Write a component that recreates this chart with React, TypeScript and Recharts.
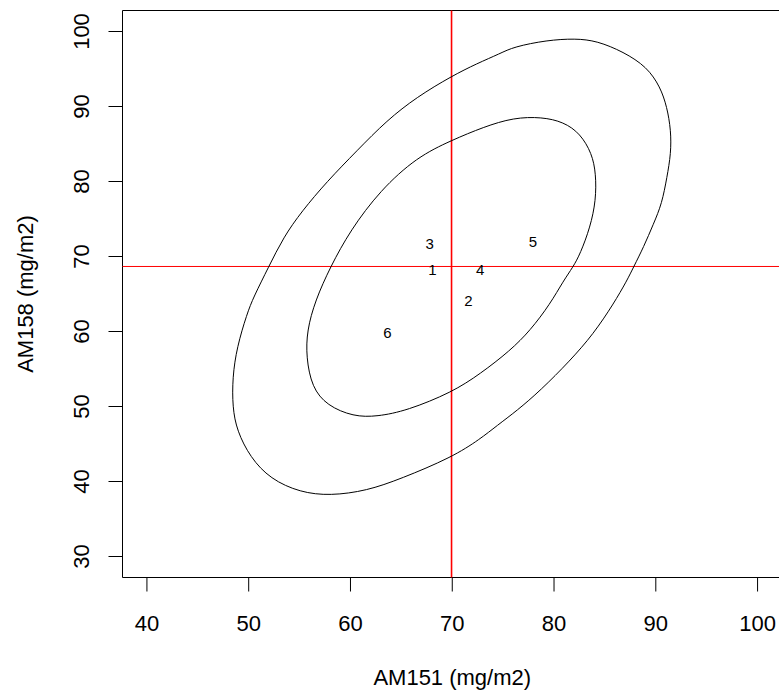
import React from "react";
import { Label, ReferenceArea, ReferenceLine, Scatter, ScatterChart, XAxis, YAxis } from "recharts";

const FONT = '"Liberation Sans", Arial, sans-serif';

const X_TICKS = [40, 50, 60, 70, 80, 90, 100];
const Y_TICKS = [30, 40, 50, 60, 70, 80, 90, 100];
const X_DOMAIN: [number, number] = [37.6, 102.4];
const Y_DOMAIN: [number, number] = [27.2, 102.8];

const X_TITLE = "AM151 (mg/m2)";
const Y_TITLE = "AM158 (mg/m2)";

// sample labels drawn as text at their positions
const SAMPLE_IDS = ["1", "2", "3", "4", "5", "6"];
const SAMPLE_X = [68.06, 71.6, 67.77, 72.75, 77.93, 63.64];
const SAMPLE_Y = [68.23, 64.13, 71.78, 68.23, 72.05, 59.82];

// red cross lines
const MEAN_X = 69.93;
const MEAN_Y = 68.67;

const OUTER_X = [
  69.93, 72.43, 74.72, 76.02, 79.3, 82.09, 84.22, 86.83, 89.13, 90.44, 91.1, 91.49, 91.49, 91.1, 90.6, 89.78,
  88.8, 87.81, 87.17, 85.85, 83.88, 81.59, 78.65, 76.36, 74.39, 72.75, 69.97, 64.89, 61.62, 58.01, 55.06, 52.12,
  50.15, 48.84, 48.41, 48.41, 48.84, 49.83, 50.47, 51.95, 53.42, 55.2, 57.69, 60.63, 63.58, 66.53,
];
const OUTER_Y = [
  94.04, 95.73, 97.07, 97.95, 98.84, 99.07, 98.75, 97.28, 95.28, 92.61, 89.94, 86.83, 83.72, 80.59, 77.04, 74.37,
  71.25, 68.58, 66.8, 63.69, 59.69, 56.12, 52.12, 49.45, 47.45, 45.67, 43.22, 40.33, 38.77, 38.1, 38.54, 40.33,
  43.22, 46.78, 49.89, 53.9, 57.9, 62.36, 64.57, 68.58, 72.58, 76.0, 80.0, 84.1, 88.16, 91.27,
];

// inner ellipse
const INNER_X = [
  69.93, 73.08, 76.02, 78.81, 80.94, 82.58, 83.73, 84.12, 84.12, 83.56, 82.58, 81.86, 80.94, 79.63, 77.66, 75.7,
  72.75, 69.97, 65.55, 62.6, 60.3, 57.69, 56.21, 55.65, 55.72, 56.54, 58.01, 59.98, 62.92, 66.53,
];
const INNER_Y = [
  85.49, 87.27, 88.52, 88.6, 87.94, 86.39, 83.72, 81.05, 77.48, 73.92, 70.37, 68.58, 66.8, 63.69, 60.13, 57.46,
  54.35, 51.89, 49.45, 48.65, 48.65, 50.12, 52.56, 56.56, 60.13, 64.13, 68.58, 73.48, 78.82, 83.26,
];

const toPoints = (xs: number[], ys: number[]) => xs.map((x, i) => ({ x, y: ys[i] }));

const outer = toPoints(OUTER_X, OUTER_Y);
const inner = toPoints(INNER_X, INNER_Y);
const samples = SAMPLE_IDS.map((id, i) => ({ id, x: SAMPLE_X[i], y: SAMPLE_Y[i] }));

const XTick = (props: any) => (
  <text x={props.x} y={props.y} textAnchor="middle" fontSize={22} fill="#000" fontFamily={FONT}>
    {props.payload.value}
  </text>
);

const YTick = (props: any) => (
  <text
    x={props.x}
    y={props.y}
    transform={`rotate(-90, ${props.x}, ${props.y})`}
    textAnchor="middle"
    fontSize={22}
    fill="#000"
    fontFamily={FONT}
  >
    {props.payload.value}
  </text>
);

const SampleLabel = (props: any) => (
  <text x={props.cx} y={props.cy + 5.5} textAnchor="middle" fontSize={15} fill="#000" fontFamily={FONT}>
    {props.payload.id}
  </text>
);

export default function App() {
  return (
    <div
      style={{
        position: "fixed",
        left: 0,
        top: 0,
        width: 779,
        height: 693,
        overflow: "hidden",
        background: "#fff",
      }}
    >
      <ScatterChart width={800} height={693} margin={{ top: 10.5, right: 18, bottom: 0, left: 0 }}>
        <XAxis
          type="number"
          dataKey="x"
          domain={X_DOMAIN}
          ticks={X_TICKS}
          allowDataOverflow
          height={115.5}
          axisLine={false}
          tickSize={14}
          tickMargin={39.5}
          tickLine={{ stroke: "#000", strokeWidth: 1 }}
          tick={XTick}
        >
          <Label
            content={(p: any) => {
              const vb = p.viewBox || {};
              return (
                <text
                  x={vb.x + vb.width / 2}
                  y={vb.y + 107.5}
                  textAnchor="middle"
                  fontSize={22}
                  fill="#000"
                  fontFamily={FONT}
                >
                  {X_TITLE}
                </text>
              );
            }}
          />
        </XAxis>
        <YAxis
          type="number"
          dataKey="y"
          domain={Y_DOMAIN}
          ticks={Y_TICKS}
          allowDataOverflow
          width={122.5}
          axisLine={false}
          tickSize={14}
          tickMargin={20}
          tickLine={{ stroke: "#000", strokeWidth: 1 }}
          tick={YTick}
        >
          <Label
            content={(p: any) => {
              const vb = p.viewBox || {};
              const cy = vb.y + vb.height / 2;
              return (
                <text
                  transform={`translate(33, ${cy}) rotate(-90)`}
                  textAnchor="middle"
                  fontSize={22}
                  fill="#000"
                  fontFamily={FONT}
                >
                  {Y_TITLE}
                </text>
              );
            }}
          />
        </YAxis>
        <ReferenceArea
          x1={X_DOMAIN[0]}
          x2={X_DOMAIN[1]}
          y1={Y_DOMAIN[0]}
          y2={Y_DOMAIN[1]}
          fill="none"
          stroke="#000"
          strokeWidth={1}
          ifOverflow="visible"
        />
        <Scatter
          data={outer}
          line={{ stroke: "#000", strokeWidth: 1 }}
          lineType="joint"
          lineJointType="basisClosed"
          shape={() => <g />}
          legendType="none"
          isAnimationActive={false}
        />
        <Scatter
          data={inner}
          line={{ stroke: "#000", strokeWidth: 1 }}
          lineType="joint"
          lineJointType="basisClosed"
          shape={() => <g />}
          legendType="none"
          isAnimationActive={false}
        />
        <Scatter data={samples} shape={SampleLabel} legendType="none" isAnimationActive={false} />
        <ReferenceLine x={MEAN_X} stroke="#ff0000" strokeWidth={1.6} />
        <ReferenceLine y={MEAN_Y} stroke="#ff0000" strokeWidth={1} />
      </ScatterChart>
    </div>
  );
}
